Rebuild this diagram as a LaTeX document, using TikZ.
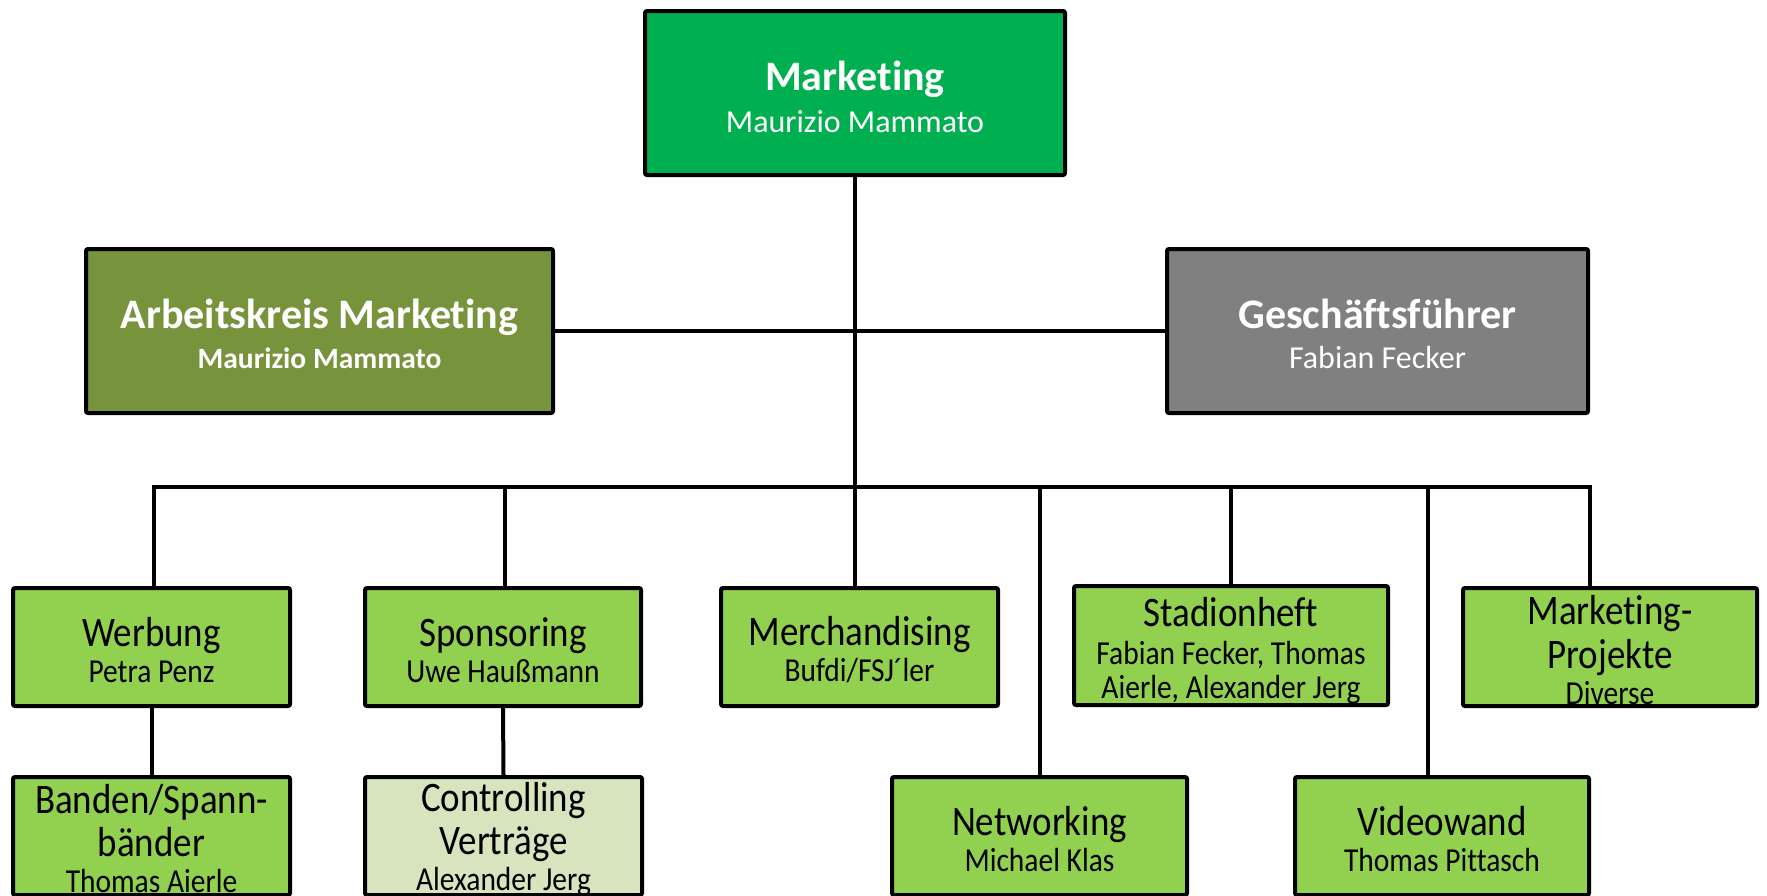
\documentclass[tikz,border=0pt]{standalone}
\usepackage{fontspec}
\setmainfont{Carlito}[Ligatures=NoCommon]
\newfontfamily\condfont{Carlito}[FakeStretch=0.88,Ligatures=NoCommon]
\definecolor{topgreen}{HTML}{00B050}
\definecolor{akgreen}{HTML}{77933C}
\definecolor{gfgray}{HTML}{808080}
\definecolor{unitgreen}{HTML}{92D050}
\definecolor{palegreen}{HTML}{D7E4BD}
\newcommand\orgtitle[1]{\fontsize{42}{36}\selectfont #1}
\newcommand\orgname[1]{\fontsize{33.5}{36}\selectfont #1}
\tikzset{
  orgbox/.style={draw=black, line width=4pt, rounded corners=2pt, inner sep=0pt},
  headbox/.style={orgbox, minimum height=164pt},
  unitbox/.style={orgbox, fill=unitgreen, minimum height=118pt},
  headtext/.style={align=center, inner sep=0pt, text=white, yshift=-4pt},
  unittext/.style={align=center, inner sep=0pt, text=black, yshift=-3pt, font=\condfont\fontsize{33.5}{36}\selectfont}
}
\tikzset{conn/.style={line width=4pt, line join=miter}}
\begin{document}
\begin{tikzpicture}[x=1pt,y=-1pt]
\useasboundingbox (0,0) rectangle (1767,895);
\fill[white] (0,0) rectangle (1767,895);

% head boxes
\node[headbox, fill=topgreen, minimum width=420pt] (mkt) at (855,93) {};
\node[headtext, font=\fontsize{32}{42}\selectfont] (mktT) at (mkt.center)
  {\fontsize{42}{42}\selectfont\bfseries Marketing\\ \fontsize{32}{42}\selectfont Maurizio Mammato};
\node[headbox, fill=akgreen, minimum width=467pt] (ak) at (319.5,331) {};
\node[headtext, yshift=1pt, font=\fontsize{29.5}{40}\selectfont] (akT) at (ak.center)
  {\fontsize{42}{40}\selectfont\bfseries Arbeitskreis Marketing\\ \fontsize{29.5}{40}\selectfont\bfseries Maurizio Mammato};
\node[headbox, fill=gfgray, minimum width=421pt] (gf) at (1377.5,331) {};
\node[headtext, yshift=1pt, font=\fontsize{32}{40}\selectfont] (gfT) at (gf.center)
  {\fontsize{42}{40}\selectfont\bfseries Geschäftsführer\\ \fontsize{32}{40}\selectfont Fabian Fecker};

% second row
\node[unitbox, minimum width=277pt] (werb) at (151.5,647) {};
\node[unittext] (werbT) at (werb.center) {\orgtitle{Werbung}\\ \orgname{Petra Penz}};
\node[unitbox, minimum width=276pt] (spon) at (503,647) {};
\node[unittext] (sponT) at (spon.center) {\orgtitle{Sponsoring}\\ \orgname{Uwe Haußmann}};
\node[unitbox, minimum width=277pt] (merch) at (859.5,647) {};
\node[unittext] (merchT) at (merch.center) {\orgtitle{Merchandising}\\ \orgname{Bufdi/FSJ´ler}};
\node[unitbox, minimum width=314pt, minimum height=119pt] (stad) at (1231,645.5) {};
\node[unittext, yshift=-2pt, font=\condfont\fontsize{33.5}{34}\selectfont] (stadT) at (stad.center)
  {\orgtitle{Stadionheft}\\[4pt] \orgname{Fabian Fecker, Thomas}\\ \orgname{Aierle, Alexander Jerg}};
\node[unitbox, minimum width=294pt] (mproj) at (1610,647) {};
\node[unittext] (mprojT) at (mproj.center)
  {\orgtitle{Marketing-}\\[7pt] \orgtitle{Projekte}\\ \orgname{Diverse}};

% third row
\node[unitbox, minimum width=277pt] (band) at (151.5,836) {};
\node[unittext] (bandT) at (band.center)
  {\orgtitle{Banden/Spann-}\\[7pt] \orgtitle{bänder}\\ \orgname{Thomas Aierle}};
\node[unitbox, fill=palegreen, minimum width=277pt] (contr) at (503.5,836) {};
\node[unittext] (contrT) at (contr.center)
  {\orgtitle{Controlling}\\[7pt] \orgtitle{Verträge}\\ \orgname{Alexander Jerg}};
\node[unitbox, minimum width=295pt] (netw) at (1039.5,836) {};
\node[unittext] (netwT) at (netw.center) {\orgtitle{Networking}\\ \orgname{Michael Klas}};
\node[unitbox, minimum width=294pt] (video) at (1442,836) {};
\node[unittext] (videoT) at (video.center) {\orgtitle{Videowand}\\ \orgname{Thomas Pittasch}};

% connectors
\coordinate (busL) at (154,487);
\coordinate (busR) at (1590,487);
\coordinate (sponTap) at (505,487);
\coordinate (vidTap) at (1428,487);
\draw[conn] (mkt.south) -- (mkt.south |- merch.north);
\draw[conn] (ak.east) -- (gf.west);
\draw[conn] (busL |- werb.north) -- (busL) -- (busR) -- (busR |- mproj.north);
\draw[conn] (sponTap) -- (sponTap |- spon.north);
\draw[conn] (netw.north |- busL) -- (netw.north);
\draw[conn] (stad.north |- busL) -- (stad.north);
\draw[conn] (vidTap) -- (vidTap |- video.north);
\draw[conn] (werb.south) -- (band.north);
\draw[conn] (spon.south) -- (contr.north);
\end{tikzpicture}
\end{document}
